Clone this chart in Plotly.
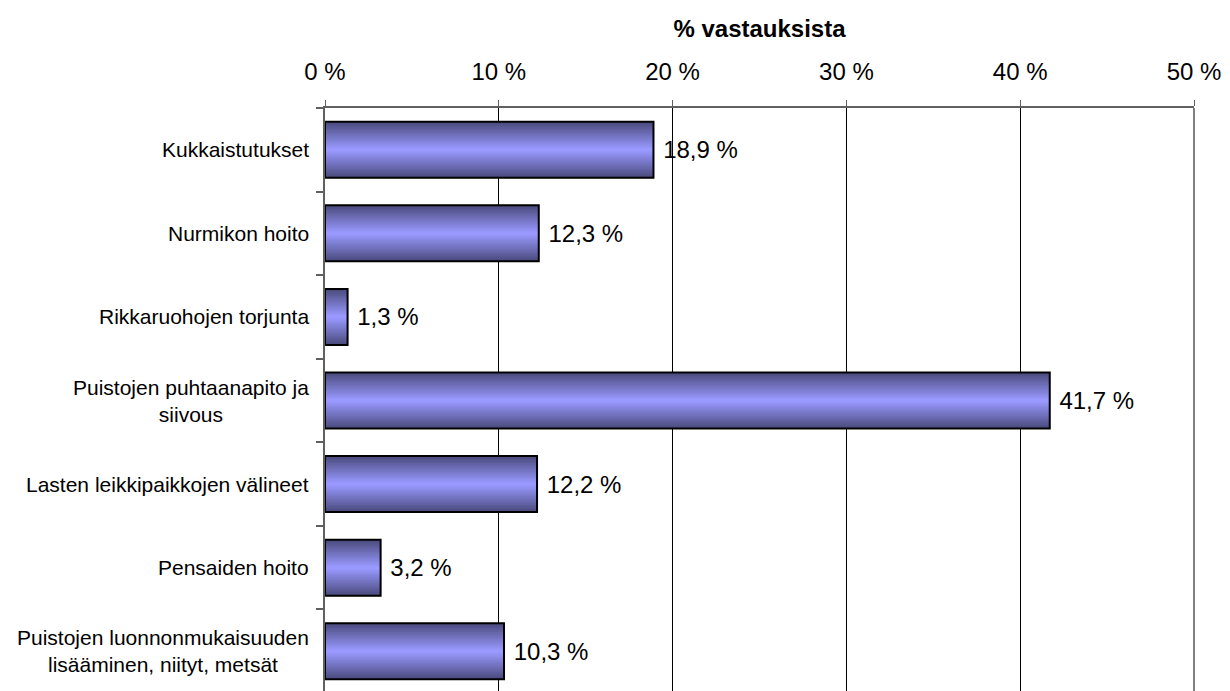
import plotly.graph_objects as go

categories = [
    "Kukkaistutukset",
    "Nurmikon hoito",
    "Rikkaruohojen torjunta",
    "Puistojen puhtaanapito ja<br>siivous",
    "Lasten leikkipaikkojen välineet",
    "Pensaiden hoito",
    "Puistojen luonnonmukaisuuden<br>lisääminen, niityt, metsät",
]
values = [18.9, 12.3, 1.3, 41.7, 12.2, 3.2, 10.3]
x_tick_vals = [0, 10, 20, 30, 40, 50]
x_tick_text = ["0 %", "10 %", "20 %", "30 %", "40 %", "50 %"]
axis_title = "% vastauksista"

FONT = "Liberation Sans, Arial, sans-serif"
BAR_W = 0.67
EDGE = (76, 76, 128)
CENTER = (153, 153, 255)
N = 16

fig = go.Figure()

# gradient simulation: stacked narrower, lighter bars
for i in range(N):
    t = i / (N - 1)
    c = tuple(int(round(EDGE[k] + (CENTER[k] - EDGE[k]) * t)) for k in range(3))
    fig.add_trace(go.Bar(
        y=categories, x=values, orientation="h",
        width=BAR_W * (1 - i / N),
        marker=dict(color="rgb(%d,%d,%d)" % c, line=dict(width=0)),
        hoverinfo="skip", showlegend=False,
    ))

labels = ["\u00a0" + ("%.1f" % v).replace(".", ",") + " %" for v in values]
fig.add_trace(go.Bar(
    y=categories, x=values, orientation="h", width=BAR_W,
    marker=dict(color="rgba(0,0,0,0)", line=dict(color="black", width=2)),
    text=labels, textposition="outside", cliponaxis=False,
    textfont=dict(family=FONT, size=24, color="black"),
    showlegend=False,
))

# category labels
for cat in categories:
    fig.add_annotation(
        x=0, xref="paper", y=cat, yref="y",
        text=cat, showarrow=False, xanchor="right", yanchor="middle",
        xshift=-14, align="center",
        font=dict(family=FONT, size=21, color="black"),
    )

fig.add_shape(type="line", xref="paper", yref="paper", x0=1, x1=1, y0=0, y1=1,
              line=dict(color="#808080", width=2))

fig.update_layout(
    width=1230, height=691,
    margin=dict(l=317, r=44, t=100, b=6),
    paper_bgcolor="white", plot_bgcolor="white",
    barmode="overlay",
    font=dict(family=FONT, color="black"),
    xaxis=dict(
        side="top", range=[0, 50], tickvals=x_tick_vals, ticktext=x_tick_text,
        tickfont=dict(family=FONT, size=24, color="black"),
        ticklabelstandoff=10,
        showgrid=True, gridcolor="black", gridwidth=1,
        showline=True, linecolor="#606060", linewidth=2,
        ticks="outside", ticklen=6, tickcolor="#606060", tickwidth=1,
        zeroline=False,
        title=dict(text="<b>" + axis_title + "</b>", font=dict(family=FONT, size=24, color="black"), standoff=14),
    ),
    yaxis=dict(
        type="category", categoryorder="array", categoryarray=categories,
        range=[6.5, -0.5], showticklabels=False,
        tickson="boundaries", ticks="outside", ticklen=7, tickcolor="#606060", tickwidth=2,
        showline=True, linecolor="#606060", linewidth=2, showgrid=False, zeroline=False,
    ),
)

fig.write_html("out.html")
